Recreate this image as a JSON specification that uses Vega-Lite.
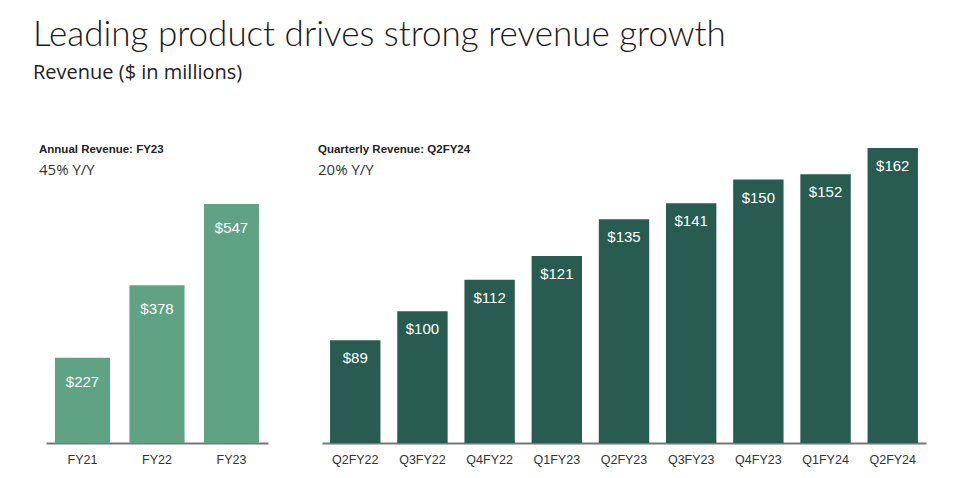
{
  "$schema": "https://vega.github.io/schema/vega-lite/v6.json",
  "background": "white",
  "padding": {"left": 33, "top": 18, "right": 10, "bottom": 5},
  "title": {
    "text": "Leading product drives strong revenue growth",
    "subtitle": "Revenue ($ in millions)",
    "anchor": "start",
    "font": "Lato",
    "fontSize": 35,
    "fontWeight": 300,
    "color": "#1a1a1a",
    "subtitleFont": "Open Sans",
    "subtitleFontSize": 20,
    "subtitleColor": "#222222",
    "subtitlePadding": 10,
    "dx": -6,
    "offset": 50
  },
  "spacing": 50,
  "hconcat": [
    {
      "width": 222,
      "height": 310,
      "title": {
        "text": "Annual Revenue: FY23",
        "subtitle": "45% Y/Y",
        "anchor": "start",
        "font": "Liberation Sans",
        "fontSize": 11.5,
        "fontWeight": "bold",
        "color": "#222222",
        "subtitleFont": "Open Sans",
        "subtitleFontSize": 15,
        "subtitleColor": "#333333",
        "subtitlePadding": 8,
        "dx": -7,
        "offset": -45
      },
      "data": {"values": [
        {"period": "FY21", "revenue": 227},
        {"period": "FY22", "revenue": 378},
        {"period": "FY23", "revenue": 547}
      ]},
      "encoding": {
        "x": {"field": "period", "type": "nominal", "sort": null, "title": null,
              "scale": {"paddingInner": 0.26, "paddingOuter": 0.12}},
        "y": {"field": "revenue", "type": "quantitative", "axis": null,
              "scale": {"domain": [50, 694.5], "zero": false, "nice": false}}
      },
      "layer": [
        {"mark": {"type": "bar", "color": "#5fa384"}, "encoding": {"y2": {"datum": 50}}},
        {"mark": {"type": "text", "baseline": "middle", "dy": 24, "color": "white", "fontSize": 15, "font": "Liberation Sans"},
         "encoding": {"text": {"field": "revenue", "type": "quantitative", "format": "$,.0f"}}}
      ]
    },
    {
      "width": 604,
      "height": 310,
      "title": {
        "text": "Quarterly Revenue: Q2FY24",
        "subtitle": "20% Y/Y",
        "anchor": "start",
        "font": "Liberation Sans",
        "fontSize": 11.5,
        "fontWeight": "bold",
        "color": "#222222",
        "subtitleFont": "Open Sans",
        "subtitleFontSize": 15,
        "subtitleColor": "#333333",
        "subtitlePadding": 8,
        "dx": -4,
        "offset": -45
      },
      "data": {"values": [
        {"period": "Q2FY22", "revenue": 89},
        {"period": "Q3FY22", "revenue": 100},
        {"period": "Q4FY22", "revenue": 112},
        {"period": "Q1FY23", "revenue": 121},
        {"period": "Q2FY23", "revenue": 135},
        {"period": "Q3FY23", "revenue": 141},
        {"period": "Q4FY23", "revenue": 150},
        {"period": "Q1FY24", "revenue": 152},
        {"period": "Q2FY24", "revenue": 162}
      ]},
      "encoding": {
        "x": {"field": "period", "type": "nominal", "sort": null, "title": null,
              "scale": {"paddingInner": 0.25, "paddingOuter": 0.12}},
        "y": {"field": "revenue", "type": "quantitative", "axis": null,
              "scale": {"domain": [50, 167.7], "zero": false, "nice": false}}
      },
      "layer": [
        {"mark": {"type": "bar", "color": "#285c50"}, "encoding": {"y2": {"datum": 50}}},
        {"mark": {"type": "text", "baseline": "middle", "dy": 18, "color": "white", "fontSize": 15, "font": "Liberation Sans"},
         "encoding": {"text": {"field": "revenue", "type": "quantitative", "format": "$,.0f"}}}
      ]
    }
  ],
  "config": {
    "view": {"stroke": null},
    "axisX": {
      "domainColor": "#777777",
      "domainWidth": 2,
      "ticks": false,
      "labelAngle": 0,
      "labelFont": "Liberation Sans",
      "labelFontSize": 12.5,
      "labelColor": "#333333",
      "labelPadding": 10,
      "grid": false
    }
  }
}
